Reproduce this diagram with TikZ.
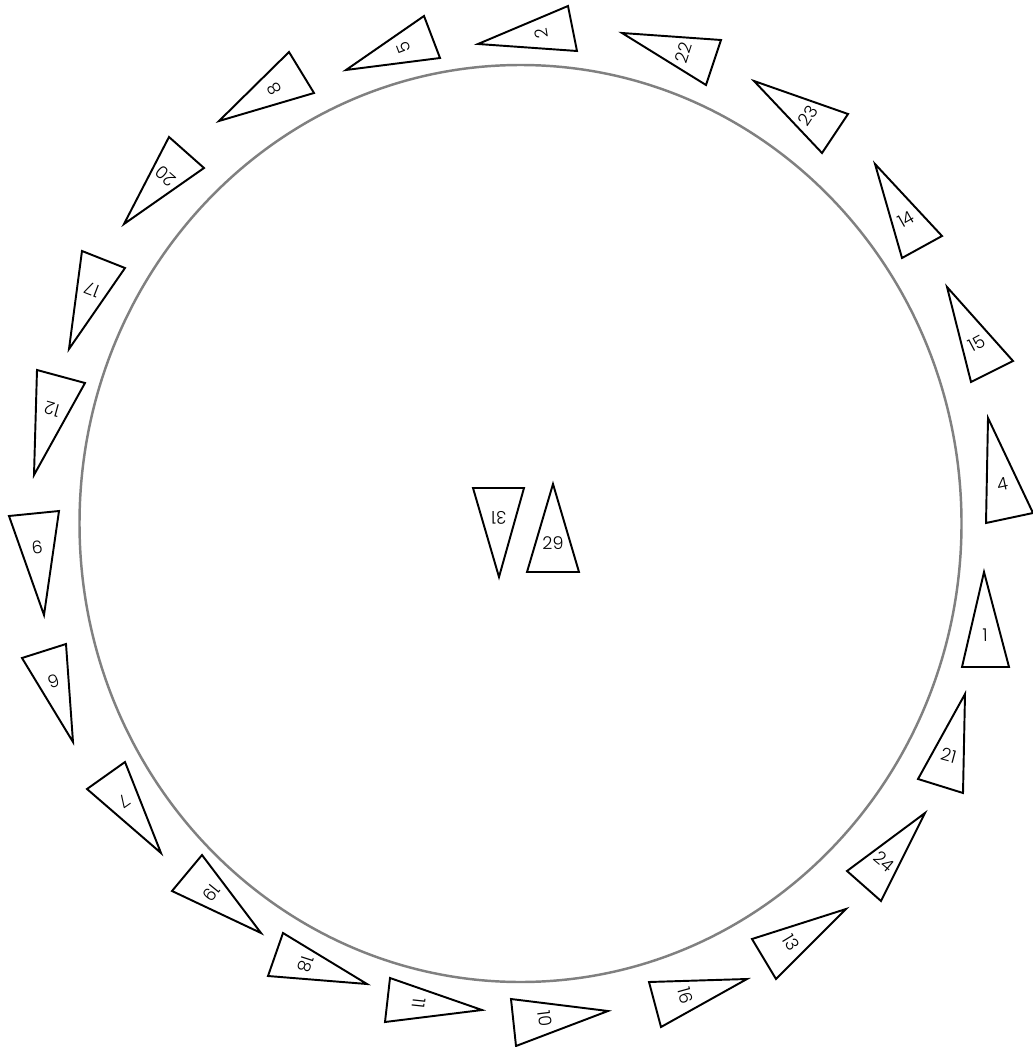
\documentclass[tikz,border=0pt]{standalone}
\usepackage{fontspec}
\setmainfont{Poppins}[UprightFont=* Light]
\usetikzlibrary{calc}

% one numbered piece: text, apex, two base corners
\newcommand{\piece}[4]{%
  \coordinate (#1a) at (#2);
  \coordinate (#1b) at (#3);
  \coordinate (#1c) at (#4);
  \coordinate (#1m) at ($(#1b)!0.5!(#1c)$);
  \draw[tri] (#1a) -- (#1b) -- (#1c) -- cycle;
  \path let \p1 = ($(#1a)-(#1m)$), \n1 = {atan2(\y1,\x1)-90} in
    node[num, rotate=\n1] (n#1) at (barycentric cs:#1a=1,#1b=1,#1c=1) {#1};
}

\begin{document}
\begin{tikzpicture}[x=0.02cm, y=-0.02cm,
  tri/.style={draw=black, line width=1.1pt, line join=miter},
  ring/.style={draw=black!50, line width=1.4pt},
  num/.style={inner sep=0pt, font=\fontsize{10}{12}\selectfont},
]
\useasboundingbox (0,0) rectangle (1032,1047);

%% TABLE
\coordinate (mid) at (520.5,523.5);
\draw[ring] (mid) ellipse [x radius=441, y radius=458.5];

%% PIECES ROUND THE TABLE
\piece{5}{346,70}{424,16}{440,58}
\piece{2}{478,44}{568,6}{577,51}
\piece{22}{622,33}{721,40}{706,85}
\piece{23}{754,81}{848,114}{822,153}
\piece{14}{875,164}{942,236}{902,258}
\piece{15}{947,287}{1013,361}{971,382}
\piece{4}{988,418}{986,523}{1033,513}
\piece{1}{984,572}{962,667}{1009,667}
\piece{21}{965,694}{918,779}{963,793}
\piece{24}{925,813}{847,871}{881,901}
\piece{13}{846,909}{752,939}{776,979}
\piece{16}{747,979}{649,982}{661,1027}
\piece{10}{608,1011}{511,999}{516,1046}
\piece{11}{482,1010}{390,978}{385,1022}
\piece{18}{367,984}{283,933}{268,976}
\piece{19}{261,933}{202,855}{172,891}
\piece{7}{161,853}{87,789}{125,762}
\piece{6}{73,742}{22,658}{66,644}
\piece{9}{44,615}{9,516}{59,511}
\piece{12}{34,475}{37,370}{85,383}
\piece{17}{69,349}{82,251}{125,268}
\piece{20}{124,224}{169,137}{204,168}
\piece{8}{219,121}{289,52}{314,93}

%% PIECES ON THE TABLE
\piece{31}{499,577}{473,488}{524,488}
\piece{29}{553,484}{527,572}{579,572}
\end{tikzpicture}
\end{document}
